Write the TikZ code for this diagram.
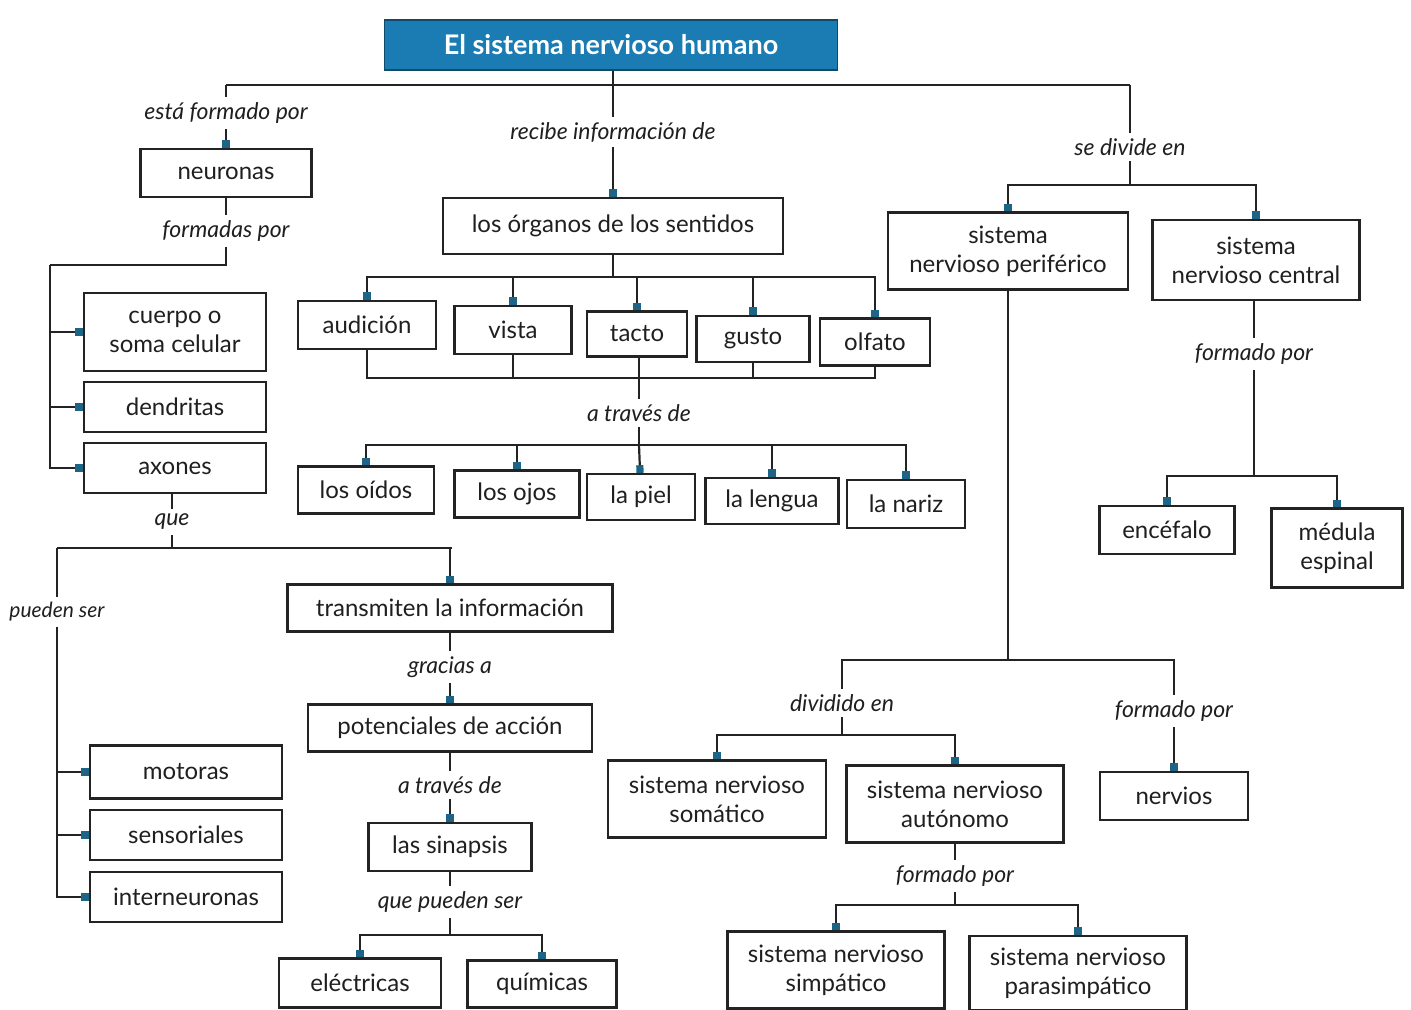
\documentclass[tikz,border=0pt]{standalone}
\usepackage{fontspec}
\setmainfont{Lato}
\usetikzlibrary{arrows.meta}
\definecolor{tealb}{RGB}{30,100,135}
\definecolor{titleb}{RGB}{26,124,178}
\definecolor{lnc}{RGB}{35,35,35}
\begin{document}
\begin{tikzpicture}[x=0.5pt,y=-0.5pt,
  bx/.style 2 args={draw=lnc, line width=1.15pt, minimum width=#1*0.5pt, minimum height=#2*0.5pt,
    inner sep=1pt, align=center, font=\fontsize{12}{14.5}\selectfont, text=black!88},
  lab/.style={font=\fontsize{11.5}{13}\selectfont\itshape, inner sep=2.5pt, text=black!88},
  ln/.style={draw=lnc, line width=1.1pt},
  tip/.style={ln, -{Square[length=3.8pt,width=3.6pt,fill=tealb,color=tealb]}},
  ttl/.style={fill=titleb, draw=titleb!60!black, line width=0.8pt, minimum width=453*0.5pt, minimum height=50*0.5pt,
    text=white, font=\fontsize{13.5}{16}\selectfont\bfseries}
]
\path[fill=white] (0,0) rectangle (1411,1009);
\useasboundingbox (0,0) rectangle (1411,1009);

% title
\node[ttl] (T) at (611,45) {El sistema nervioso humano};
\coordinate (J0) at (613,85);
\coordinate (J0L) at (226,85);
\coordinate (J0R) at (1130,85);
\draw[ln] (T.south -| J0) -- (J0);
\draw[ln] (J0L) -- (J0R);

% left branch
\node[lab] (l1) at (226,113) {está formado por};
\node[bx={171}{48}] (N) at (226,173) {neuronas};
\node[lab] (l4) at (226,231) {formadas por};
\coordinate (J1L) at (50,265);
\draw[ln] (J0L) -- (l1);
\draw[tip] (l1) -- (N);
\draw[ln] (N) -- (l4);
\draw[ln] (l4) |- (J1L);

\node[bx={182}{78}] (C) at (175,332) {cuerpo o\\soma celular};
\node[bx={182}{50}] (D) at (175,407) {dendritas};
\node[bx={182}{50}] (A) at (175,468) {axones};
\draw[tip] (J1L) |- (C);
\draw[tip] (J1L) |- (D);
\draw[tip] (J1L) |- (A);

\node[lab] (lque) at (172,522) {que};
\coordinate (J2) at (172,548);
\coordinate (J2L) at (57,548);
\coordinate (J2R) at (452,548);
\draw[ln] (A.south -| lque) -- (lque);
\draw[ln] (lque) -- (J2);
\draw[ln] (J2L) -- (J2R);

\node[lab, font=\fontsize{10.5}{12}\selectfont\itshape] (lps) at (57,612) {pueden ser};
\draw[ln] (J2L) -- (lps);
\node[bx={192}{53}] (M) at (186,772) {motoras};
\node[bx={192}{50}] (S) at (186,835) {sensoriales};
\node[bx={192}{50}] (IN) at (186,897) {interneuronas};
\draw[tip] (lps) |- (M);
\draw[tip] (lps) |- (S);
\draw[tip] (lps) |- (IN);

\node[bx={325}{47}] (TI) at (450,608) {transmiten la información};
\node[lab] (lga) at (450,667) {gracias a};
\node[bx={284}{47}] (PA) at (450,728) {potenciales de acción};
\node[lab] (lat2) at (450,785) {a través de};
\node[bx={163}{48}] (SI) at (450,847) {las sinapsis};
\node[lab] (lqps) at (450,902) {que pueden ser};
\coordinate (J4) at (450,935);
\node[bx={162}{49}] (E) at (360,983) {eléctricas};
\node[bx={149}{47}] (Q) at (542,984) {químicas};
\draw[tip] (J2R) -| (TI);
\draw[ln] (TI) -- (lga);
\draw[tip] (lga) -- (PA);
\draw[ln] (PA) -- (lat2);
\draw[tip] (lat2) -- (SI);
\draw[ln] (SI) -- (lqps);
\draw[ln] (lqps) -- (J4);
\draw[tip] (J4) -| (E);
\draw[tip] (J4) -| (Q);

% middle branch
\node[lab] (l2) at (613,132) {recibe información de};
\node[bx={340}{56}] (O) at (613,226) {los órganos de los sentidos};
\draw[ln] (J0) -- (l2);
\draw[tip] (l2) -- (O);
\coordinate (J5) at (613,277);
\draw[ln] (O) -- (J5);

\node[bx={138}{48}] (AU) at (367,325) {audición};
\node[bx={117}{48}] (VI) at (513,330) {vista};
\node[bx={100}{45}] (TA) at (637,334) {tacto};
\node[bx={113}{46}] (GU) at (753,339) {gusto};
\node[bx={110}{47}] (OL) at (875,342) {olfato};
\draw[tip] (J5) -| (AU);
\draw[tip] (J5) -| (VI);
\draw[tip] (J5) -| (TA);
\draw[tip] (J5) -| (GU);
\draw[tip] (J5) -| (OL);

\coordinate (B1) at (367,378);
\draw[ln] (AU) |- (B1) -| (OL);
\draw[ln] (VI) -- (VI.south |- B1);
\draw[ln] (GU) -- (GU.south |- B1);
\node[lab] (lat) at (639,413) {a través de};
\draw[ln] (TA.south -| lat) -- (lat);
\coordinate (J7) at (639,445);
\draw[ln] (lat) -- (J7);

\node[bx={136}{47}] (OI) at (366,490) {los oídos};
\node[bx={125}{47}] (OJ) at (517,494) {los ojos};
\node[bx={108}{46}] (PI) at (641,497) {la piel};
\node[bx={133}{46}] (LE) at (772,501) {la lengua};
\node[bx={118}{48}] (NA) at (906,504) {la nariz};
\draw[tip] (J7) -| (OI);
\draw[tip] (J7) -| (OJ);
\draw[tip] (J7) -- (PI);
\draw[tip] (J7) -| (LE);
\draw[tip] (J7) -| (NA);

% right branch
\node[lab] (l3) at (1130,147) {se divide en};
\coordinate (J8) at (1130,185);
\draw[ln] (J0R) -- (l3);
\draw[ln] (l3) -- (J8);
\node[bx={240}{77}] (SNP) at (1008,251) {sistema\\nervioso periférico};
\node[bx={207}{80}] (SNC) at (1256,260) {sistema\\nervioso central};
\draw[tip] (J8) -| (SNP);
\draw[tip] (J8) -| (SNC);

\node[lab] (lfp3) at (1254,354) {formado por};
\coordinate (J12) at (1254,476);
\draw[ln] (SNC.south -| lfp3) -- (lfp3);
\draw[ln] (lfp3) -- (J12);
\node[bx={135}{48}] (EN) at (1167,530) {encéfalo};
\node[bx={131}{79}] (ME) at (1337,548) {médula\\espinal};
\draw[tip] (J12) -| (EN);
\draw[tip] (J12) -| (ME);

\coordinate (J9) at (1008,660);
\draw[ln] (SNP) -- (J9);
\node[lab] (ldiv) at (842,703) {dividido en};
\node[lab] (lfp2) at (1174,711) {formado por};
\draw[ln] (J9) -| (ldiv);
\draw[ln] (J9) -| (lfp2);
\node[bx={148}{48}] (NE) at (1174,796) {nervios};
\draw[tip] (lfp2) -- (NE);

\coordinate (J10) at (842,735);
\draw[ln] (ldiv) -- (J10);
\node[bx={218}{77}] (SO) at (717,799) {sistema nervioso\\somático};
\node[bx={217}{77}] (AUT) at (955,804) {sistema nervioso\\autónomo};
\draw[tip] (J10) -| (SO);
\draw[tip] (J10) -| (AUT);

\node[lab] (lfp4) at (955,876) {formado por};
\coordinate (J11) at (955,905);
\draw[ln] (AUT) -- (lfp4);
\draw[ln] (lfp4) -- (J11);
\node[bx={217}{77}] (SIM) at (836,970) {sistema nervioso\\simpático};
\node[bx={217}{74}] (PAR) at (1078,973) {sistema nervioso\\parasimpático};
\draw[tip] (J11) -| (SIM);
\draw[tip] (J11) -| (PAR);
\end{tikzpicture}
\end{document}
